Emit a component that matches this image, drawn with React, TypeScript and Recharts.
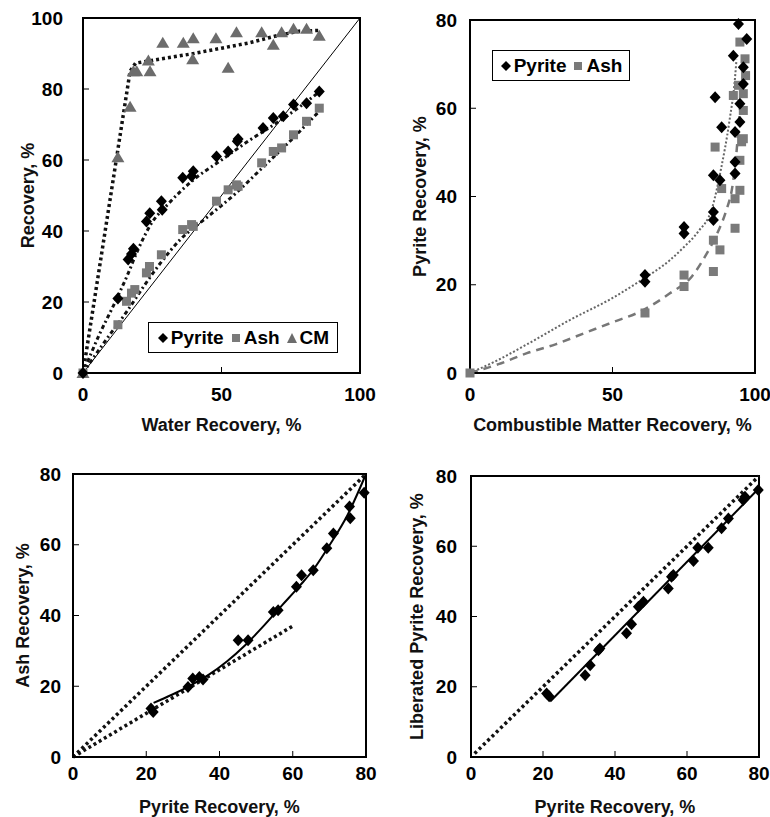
import React from 'react';
import { ComposedChart, Scatter, Line, XAxis, YAxis, ReferenceArea, Label } from 'recharts';

type Pt = { x: number; y: number };
const pts = (a: number[][]): Pt[] => a.map(([x, y]) => ({ x, y }));

// top-left: recovery vs water recovery
const waterPyrite = pts([[0, 0], [12.6, 21], [16.3, 32], [17.5, 33.5], [18.2, 35], [22.9, 42.7], [24.1, 45], [28.3, 48.4], [28.6, 46], [36, 55], [39.2, 55.4], [39.8, 56.8], [48.2, 61], [52.4, 62.4], [55.7, 65.3], [56, 65.9], [65, 69], [68.7, 71.8], [72.3, 72.3], [76, 75.6], [80.7, 76], [85.3, 79.3]]);
const waterAsh = pts([[0, 0], [12.6, 13.6], [15.7, 20.2], [17.5, 22.5], [18.7, 23.5], [22.9, 28.2], [24, 30], [28.3, 33.3], [36, 40.4], [39.2, 41.8], [39.8, 41.3], [48.2, 48.4], [52.4, 51.6], [55.4, 53], [56, 52.6], [64.5, 59.2], [68.7, 62.4], [71.7, 63.4], [76, 67.1], [80.7, 70.9], [85.3, 74.6]]);
const waterCM = pts([[0, 0], [12.6, 60.8], [17, 75], [18.2, 85], [19.4, 85], [23.6, 88], [24.2, 85], [28.8, 93], [36.2, 93], [39.8, 94.3], [39.6, 88.4], [48, 94.3], [52.4, 86], [55.4, 96], [64.5, 96], [68.7, 92.5], [71.7, 96], [76, 97], [80.7, 97], [85.3, 95]]);
const waterPyriteFit = pts([[0, 0], [6, 11], [11, 19], [16, 27.5], [20, 35], [25, 42.5], [30, 47], [40, 54.5], [50, 60], [60, 65.5], [70, 70.5], [80, 76], [85, 79]]);
const waterAshFit = pts([[0, 0], [8, 9], [16, 17.5], [22, 24.5], [28, 31], [35, 37.5], [45, 44], [55, 50.5], [65, 58], [75, 65.5], [85, 73.5]]);
const waterCMFit = pts([[0, 0], [17, 85], [19, 87.3], [30, 88.7], [40, 90], [50, 91.5], [60, 93], [70, 95], [78, 96.3], [85, 96.5]]);
const diagonal100 = pts([[0, 0], [100, 100]]);

// top-right: pyrite recovery vs combustible matter recovery
const cmPyrite = pts([[61.4, 22.2], [61.4, 20.7], [75.1, 33.1], [75.1, 31.6], [85.4, 44.8], [86, 62.5], [85.4, 36.5], [85.4, 34.7], [87.7, 43.7], [88.3, 55.7], [93, 54.6], [92.4, 71.9], [94.2, 79.1], [97.1, 75.7], [95.9, 69.3], [95.9, 65.5], [94.7, 61], [94.7, 56.9], [93, 47.8], [93, 45.2]]);
const cmAsh = pts([[0, 0], [61.4, 13.6], [75.1, 22.2], [75.1, 19.6], [85.4, 30.1], [85.4, 23], [86, 51.2], [87.7, 27.9], [88.3, 41.8], [93, 32.8], [93, 39.5], [92.4, 62.9], [94.7, 41.4], [94.7, 48.2], [94.7, 75], [95.3, 52.4], [95.9, 53.1], [95.9, 59.5], [95.9, 63.3], [96.5, 71.2], [96.7, 67.4], [94.2, 65.2]]);
const cmPyriteFit = pts([[0, 0], [10, 3], [20, 6.5], [35, 12], [50, 17], [60, 21], [70, 25.5], [75, 28.5], [80, 32], [85, 37.5], [88, 46], [91, 57], [93, 67], [93.5, 71]]);
const cmAshFit = pts([[0, 0], [10, 2], [20, 4.5], [30, 6.5], [40, 9], [50, 11.5], [60, 14], [70, 18], [78, 22], [83, 27], [87, 32], [90, 37], [92, 42], [93.5, 50], [94.5, 58], [95.5, 65]]);

// bottom-left: ash recovery vs pyrite recovery
const ashVsPyrite = pts([[21.3, 13.7], [21.9, 12.7], [31.4, 19.8], [32.7, 22.2], [34.5, 22.6], [35.5, 21.9], [45.1, 33], [47.8, 33], [54.7, 41], [56, 41.5], [61, 48.1], [62.4, 51.4], [65.6, 52.8], [69.3, 59], [71.1, 63.2], [75.5, 70.8], [75.7, 67.5], [79.5, 74.7]]);
const ashVsPyriteFit = pts([[22, 15.3], [27, 17.6], [32, 20.2], [37, 23.2], [42, 27], [47, 31.6], [52, 37], [57, 42.8], [62, 48.5], [66, 53.5], [70, 59.8], [75, 68.5], [80, 80]]);
const ashUpperLine = pts([[0, 0], [80, 80]]);
const ashLowerLine = pts([[0, 0], [60, 37]]);

// bottom-right: liberated pyrite recovery vs pyrite recovery
const liberated = pts([[21, 18.1], [21.7, 17.3], [31.7, 23.3], [33.1, 26.1], [35.4, 30.4], [35.8, 30.9], [43.2, 35.2], [44.6, 37.8], [46.5, 42.8], [47.9, 44.2], [54.8, 48], [56.2, 51.8], [55.7, 51.3], [61.8, 55.8], [63, 59.6], [65.9, 59.6], [69.6, 65.1], [71.5, 67.9], [75.6, 73.2], [76.1, 74.1], [79.8, 76]]);
const liberatedFit = pts([[22, 15.8], [80, 76.5]]);
const liberatedDiag = pts([[1, 1], [80, 80]]);

const ticks100 = [0, 50, 100];
const ticks80y = [0, 20, 40, 60, 80];

const FONT = "'Liberation Sans', Arial, sans-serif";
const tickStyle = { fontSize: 19, fontWeight: 'bold', fill: '#000', fontFamily: FONT };
const titleStyle = { fontSize: 18, fontWeight: 'bold', fill: '#111', fontFamily: FONT };
const GRAY = '#7a7a7a';

const Diamond = (p: any) => (
  <polygon points={`${p.cx},${p.cy - 6} ${p.cx + 5.5},${p.cy} ${p.cx},${p.cy + 6} ${p.cx - 5.5},${p.cy}`} fill="#000" />
);
const Square = (p: any) => <rect x={p.cx - 4.5} y={p.cy - 4.5} width={9} height={9} fill={GRAY} />;
const Triangle = (p: any) => (
  <polygon points={`${p.cx},${p.cy - 6} ${p.cx + 6.5},${p.cy + 5} ${p.cx - 6.5},${p.cy + 5}`} fill="#6c6c6c" />
);

function Box({ x, y }: { x: number; y: number }) {
  return <ReferenceArea x1={0} x2={x} y1={0} y2={y} fill="none" stroke="#000" strokeWidth={2} ifOverflow="visible" />;
}

function LegendBox({ left, top, width, items }: { left: number; top: number; width: number; items: { name: string; mark: string }[] }) {
  return (
    <div style={{ position: 'absolute', left, top, width, height: 31, border: '1.5px solid #000', background: '#fff', boxSizing: 'border-box', display: 'flex', alignItems: 'center', justifyContent: 'center', gap: 6, fontFamily: FONT, fontWeight: 'bold', fontSize: 19 }}>
      {items.map((it) => (
        <span key={it.name} style={{ display: 'flex', alignItems: 'center' }}>
          <svg width={12} height={12} style={{ marginRight: 2 }}>
            {it.mark === 'diamond' && <polygon points="6,1 11,6 6,11 1,6" fill="#000" />}
            {it.mark === 'square' && <rect x={2} y={2} width={8} height={8} fill={GRAY} />}
            {it.mark === 'triangle' && <polygon points="6,1 11,11 1,11" fill="#6c6c6c" />}
          </svg>
          {it.name}
        </span>
      ))}
    </div>
  );
}

export default function App() {
  return (
    <div style={{ position: 'absolute', left: 0, top: 0, width: 770, height: 817, background: '#fff' }}>
      {/* top-left */}
      <div style={{ position: 'absolute', left: 0, top: 0 }}>
        <ComposedChart width={385} height={440} margin={{ top: 18, right: 25, bottom: 0, left: 0 }}>
          <XAxis dataKey="x" type="number" domain={[0, 100]} ticks={ticks100} height={67} tickSize={-6} tickMargin={21} tick={tickStyle} axisLine={{ stroke: '#000', strokeWidth: 2 }} tickLine={{ stroke: '#000' }}>
            <Label value="Water Recovery, %" position="center" dy={18} {...titleStyle} />
          </XAxis>
          <YAxis dataKey="y" type="number" domain={[0, 100]} ticks={[0, 20, 40, 60, 80, 100]} width={83} tickSize={-6} tickMargin={26} tick={tickStyle} axisLine={{ stroke: '#000', strokeWidth: 2 }} tickLine={{ stroke: '#000' }}>
            <Label value="Recovery, %" angle={-90} position="center" dx={-14} {...titleStyle} />
          </YAxis>
          <Box x={100} y={100} />
          <Line data={diagonal100} dataKey="y" type="linear" stroke="#000" strokeWidth={1} dot={false} isAnimationActive={false} />
          <Line data={waterCMFit} dataKey="y" type="linear" stroke="#111" strokeWidth={3.5} strokeDasharray="3 3" dot={false} isAnimationActive={false} />
          <Line data={waterPyriteFit} dataKey="y" type="monotone" stroke="#111" strokeWidth={3} strokeDasharray="4 3 2 3" dot={false} isAnimationActive={false} />
          <Line data={waterAshFit} dataKey="y" type="monotone" stroke="#111" strokeWidth={3} strokeDasharray="4 3 2 3" dot={false} isAnimationActive={false} />
          <Scatter data={waterAsh} shape={Square} isAnimationActive={false} />
          <Scatter data={waterCM} shape={Triangle} isAnimationActive={false} />
          <Scatter data={waterPyrite} shape={Diamond} isAnimationActive={false} />
        </ComposedChart>
      </div>
      <LegendBox left={148} top={322} width={190} items={[{ name: 'Pyrite', mark: 'diamond' }, { name: 'Ash', mark: 'square' }, { name: 'CM', mark: 'triangle' }]} />

      {/* top-right */}
      <div style={{ position: 'absolute', left: 385, top: 0 }}>
        <ComposedChart width={385} height={440} margin={{ top: 20, right: 15, bottom: 0, left: 0 }}>
          <XAxis dataKey="x" type="number" domain={[0, 100]} ticks={ticks100} height={67} tickSize={-6} tickMargin={21} tick={tickStyle} axisLine={{ stroke: '#000', strokeWidth: 2 }} tickLine={{ stroke: '#000' }}>
            <Label value="Combustible Matter Recovery, %" position="center" dy={18} {...titleStyle} />
          </XAxis>
          <YAxis dataKey="y" type="number" domain={[0, 80]} ticks={ticks80y} width={85} tickSize={-6} tickMargin={19} tick={tickStyle} axisLine={{ stroke: '#000', strokeWidth: 2 }} tickLine={{ stroke: '#000' }}>
            <Label value="Pyrite Recovery, %" angle={-90} position="center" dx={-8} {...titleStyle} />
          </YAxis>
          <Box x={100} y={80} />
          <Line data={cmPyriteFit} dataKey="y" type="monotone" stroke="#666" strokeWidth={2} strokeDasharray="2 2" dot={false} isAnimationActive={false} />
          <Line data={cmAshFit} dataKey="y" type="monotone" stroke="#777" strokeWidth={2.5} strokeDasharray="8 6" dot={false} isAnimationActive={false} />
          <Scatter data={cmAsh} shape={Square} isAnimationActive={false} />
          <Scatter data={cmPyrite} shape={Diamond} isAnimationActive={false} />
        </ComposedChart>
      </div>
      <LegendBox left={492} top={50} width={138} items={[{ name: 'Pyrite', mark: 'diamond' }, { name: 'Ash', mark: 'square' }]} />

      {/* bottom-left */}
      <div style={{ position: 'absolute', left: 0, top: 440 }}>
        <ComposedChart width={385} height={377} margin={{ top: 34, right: 19, bottom: 0, left: 0 }}>
          <XAxis dataKey="x" type="number" domain={[0, 80]} ticks={ticks80y} height={60} tickSize={-6} tickMargin={16} tick={tickStyle} axisLine={{ stroke: '#000', strokeWidth: 2 }} tickLine={{ stroke: '#000' }}>
            <Label value="Pyrite Recovery, %" position="center" dy={20} {...titleStyle} />
          </XAxis>
          <YAxis dataKey="y" type="number" domain={[0, 80]} ticks={ticks80y} width={73} tickSize={-6} tickMargin={18} tick={tickStyle} axisLine={{ stroke: '#000', strokeWidth: 2 }} tickLine={{ stroke: '#000' }}>
            <Label value="Ash Recovery, %" angle={-90} position="center" dx={-14} {...titleStyle} />
          </YAxis>
          <Box x={80} y={80} />
          <Line data={ashUpperLine} dataKey="y" type="linear" stroke="#111" strokeWidth={3.5} strokeDasharray="3 3" dot={false} isAnimationActive={false} />
          <Line data={ashLowerLine} dataKey="y" type="linear" stroke="#111" strokeWidth={3.5} strokeDasharray="3 3" dot={false} isAnimationActive={false} />
          <Line data={ashVsPyriteFit} dataKey="y" type="monotone" stroke="#000" strokeWidth={2} dot={false} isAnimationActive={false} />
          <Scatter data={ashVsPyrite} shape={Diamond} isAnimationActive={false} />
        </ComposedChart>
      </div>

      {/* bottom-right */}
      <div style={{ position: 'absolute', left: 385, top: 440 }}>
        <ComposedChart width={385} height={377} margin={{ top: 36, right: 11, bottom: 0, left: 0 }}>
          <XAxis dataKey="x" type="number" domain={[0, 80]} ticks={ticks80y} height={60} tickSize={-6} tickMargin={16} tick={tickStyle} axisLine={{ stroke: '#000', strokeWidth: 2 }} tickLine={{ stroke: '#000' }}>
            <Label value="Pyrite Recovery, %" position="center" dy={20} {...titleStyle} />
          </XAxis>
          <YAxis dataKey="y" type="number" domain={[0, 80]} ticks={ticks80y} width={86} tickSize={-6} tickMargin={20} tick={tickStyle} axisLine={{ stroke: '#000', strokeWidth: 2 }} tickLine={{ stroke: '#000' }}>
            <Label value="Liberated Pyrite Recovery, %" angle={-90} position="center" dx={-11} {...titleStyle} />
          </YAxis>
          <Box x={80} y={80} />
          <Line data={liberatedDiag} dataKey="y" type="linear" stroke="#111" strokeWidth={3.5} strokeDasharray="3 3" dot={false} isAnimationActive={false} />
          <Line data={liberatedFit} dataKey="y" type="linear" stroke="#000" strokeWidth={2} dot={false} isAnimationActive={false} />
          <Scatter data={liberated} shape={Diamond} isAnimationActive={false} />
        </ComposedChart>
      </div>
    </div>
  );
}
